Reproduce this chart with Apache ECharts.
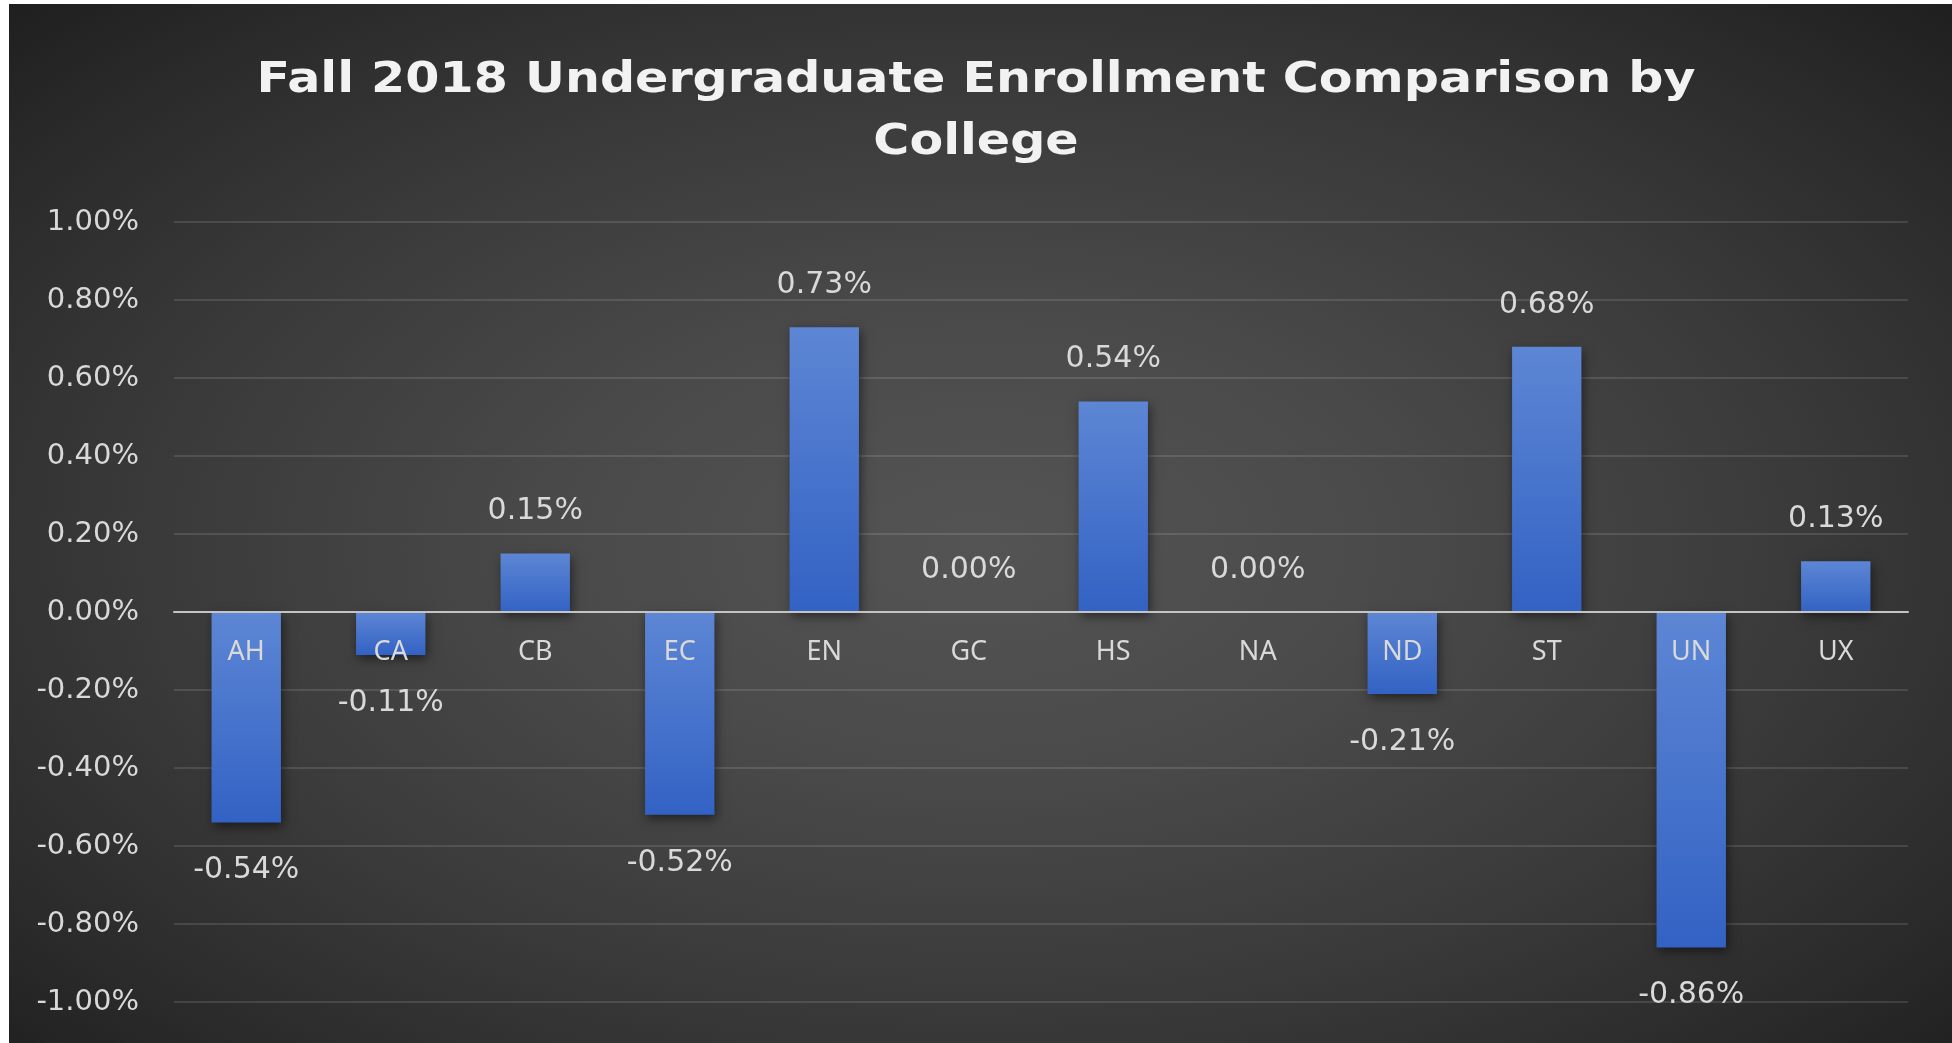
<!DOCTYPE html>
<html>
<head>
<meta charset="utf-8">
<script src="https://cdn.jsdelivr.net/npm/echarts@6/dist/echarts.min.js"></script>
<style>
  html, body { margin: 0; padding: 0; background: #ffffff; }
  #chart {
    position: absolute; left: 9px; top: 4px; width: 1943px; height: 1039px;
    background: radial-gradient(ellipse at 50% 52%, #545454 0%, #4a4a4a 30%, #3a3a3a 60%, #2a2a2a 85%, #1f1f1f 100%);
  }
</style>
</head>
<body>
<div id="chart"></div>
<script>
const titleText = 'Fall 2018 Undergraduate Enrollment Comparison by\nCollege';
const categories = ['AH', 'CA', 'CB', 'EC', 'EN', 'GC', 'HS', 'NA', 'ND', 'ST', 'UN', 'UX'];
const changePct = [-0.54, -0.11, 0.15, -0.52, 0.73, 0.00, 0.54, 0.00, -0.21, 0.68, -0.86, 0.13];
const yMin = -1, yMax = 1, yStep = 0.2;

function pct(v) {
  if (Math.abs(v) < 1e-9) v = 0;
  return v.toFixed(2) + '%';
}

const chart = echarts.init(document.getElementById('chart'), null, { renderer: 'canvas' });
const gridTop = 218, gridBottom = 41;
const plotH = chart.getHeight() - gridTop - gridBottom;
const zeroOffset = -plotH * (0 - yMin) / (yMax - yMin);

const barData = changePct.map(v => ({
  value: v,
  label: { position: v < 0 ? 'bottom' : 'top', distance: v < 0 ? 33 : 27 }
}));

chart.setOption({
  backgroundColor: 'transparent',
  animation: false,
  graphic: [{
    type: 'text',
    x: 967, y: 46,
    scaleX: 1.17,
    z: 100,
    style: {
      text: titleText,
      fill: '#f2f2f2',
      font: 'bold 42px "DejaVu Sans"',
      textAlign: 'center',
      textVerticalAlign: 'top',
      lineHeight: 62,
      shadowColor: 'rgba(0,0,0,0.85)',
      shadowBlur: 4,
      shadowOffsetX: 2,
      shadowOffsetY: 2
    }
  }],
  grid: { left: 165, right: 44, top: gridTop, bottom: gridBottom, containLabel: false },
  xAxis: {
    type: 'category',
    data: categories,
    position: 'bottom',
    offset: zeroOffset,
    z: 10,
    axisLine: { onZero: false, lineStyle: { color: '#c4c4c4', width: 2 } },
    axisTick: { show: false },
    axisLabel: { color: '#d9d9d9', fontFamily: 'Noto Sans', fontSize: 27, margin: 27 },
    splitLine: { show: false }
  },
  yAxis: {
    type: 'value',
    min: yMin, max: yMax, interval: yStep,
    axisLine: { show: false },
    axisTick: { show: false },
    axisLabel: { color: '#d9d9d9', fontFamily: 'DejaVu Sans', fontSize: 29, margin: 35, formatter: pct },
    splitLine: { lineStyle: { color: 'rgba(255,255,255,0.16)', width: 1.5 } }
  },
  series: [{
    type: 'bar',
    data: barData,
    barWidth: '48%',
    itemStyle: {
      color: {
        type: 'linear', x: 0, y: 0, x2: 0, y2: 1,
        colorStops: [
          { offset: 0, color: '#5d86d4' },
          { offset: 1, color: '#3262c4' }
        ]
      },
      shadowColor: 'rgba(0,0,0,0.5)',
      shadowBlur: 10,
      shadowOffsetX: 2,
      shadowOffsetY: 4
    },
    label: {
      show: true,
      color: '#d9d9d9',
      fontFamily: 'DejaVu Sans',
      fontSize: 30,
      formatter: p => pct(p.value)
    }
  }]
});
</script>
</body>
</html>
